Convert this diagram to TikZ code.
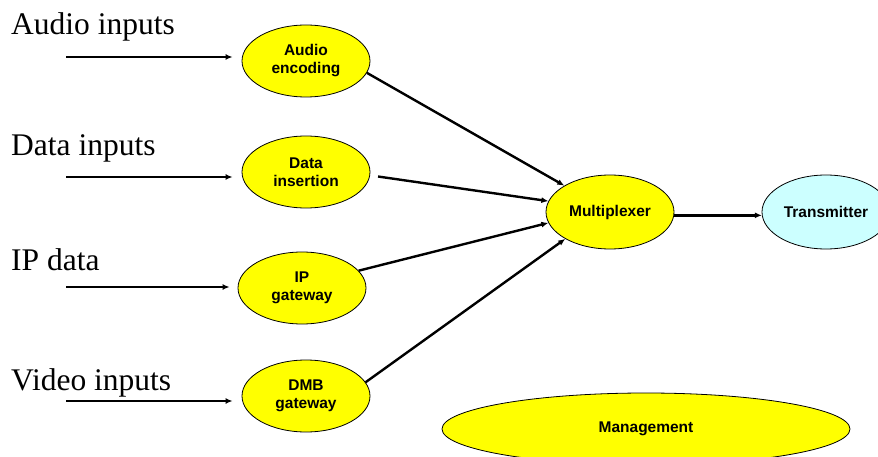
\documentclass[tikz,border=0pt]{standalone}
\usepackage{fontspec}
\setmainfont{Liberation Serif}
\newfontfamily\arialfont{Liberation Sans}
\usetikzlibrary{shapes.geometric,arrows.meta}

\definecolor{boxyellow}{HTML}{FFFF00}
\definecolor{boxcyan}{HTML}{CCFFFF}

\tikzset{
  blob/.style={ellipse, draw, line width=0.8pt, fill=boxyellow, inner sep=0pt,
    minimum width=128pt, minimum height=72pt, align=center,
    font=\arialfont\bfseries\fontsize{15.5}{18}\selectfont},
  inlabel/.style={anchor=base west, inner sep=0pt, font=\fontsize{31.5}{36}\selectfont},
  feed/.style={-{Latex[length=7pt,width=6pt]}, line width=2.4pt}
}

\begin{document}
\begin{tikzpicture}[x=1pt,y=-1pt]
        \useasboundingbox (0,0) rectangle (878,457);

        % 输入标签
        \node[inlabel] (lbaudio) at (11,35) {Audio inputs};
        \node[inlabel] (lbdata) at (11,156) {Data inputs};
        \node[inlabel] (lbip) at (11,270) {IP data};
        \node[inlabel] (lbvideo) at (11,390) {Video inputs};

        % 处理模块
        \node[blob] (aenc) at (306,61) {Audio\\encoding};
        \node[blob] (dins) at (306,172) {Data\\insertion};
        \node[blob] (ipgw) at (302,288) {IP\\gateway};
        \node[blob] (dmbgw) at (306,396) {DMB\\gateway};
        \node[blob, minimum height=74pt] (mux) at (610,212) {Multiplexer};
        \node[blob, minimum height=74pt, fill=boxcyan] (tx) at (826,212) {Transmitter};
        \node[blob, minimum width=408pt, minimum height=72pt] (mgmt) at (646,429) {Management};

        % 输入箭头
        \coordinate (ain) at (66,57);
        \coordinate (din) at (66,177);
        \coordinate (ipin) at (66,287);
        \coordinate (vin) at (66,401);
        \draw[feed, shorten >=9pt] (ain) -- (ain -| aenc.west);
        \draw[feed, shorten >=9pt] (din) -- (din -| dins.west);
        \draw[feed, shorten >=8pt] (ipin) -- (ipin -| ipgw.west);
        \draw[feed, shorten >=9pt] (vin) -- (vin -| dmbgw.west);

        % 复用器连线
        \draw[feed] (aenc.-11) -- (mux.150);
        \draw[feed, shorten <=8pt] (dins.-3) -- (mux.170);
        \draw[feed] (ipgw.17) -- (mux.-170);
        \draw[feed] (dmbgw.13) -- (mux.-149);
        \draw[feed] (mux.-3.5) -- (tx.183.5);
      \end{tikzpicture}
\end{document}
